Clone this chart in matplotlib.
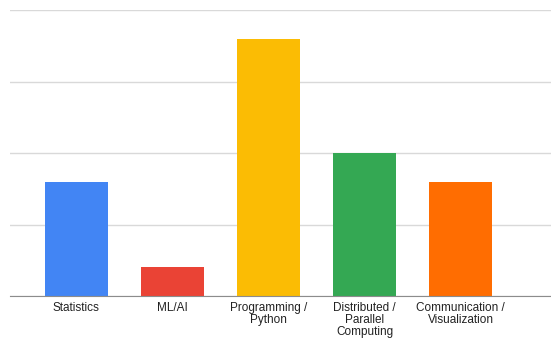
import matplotlib.pyplot as plt

# categories and counts
skills = ['Statistics', 'ML/AI', 'Programming /\nPython',
          'Distributed /\nParallel\nComputing', 'Communication /\nVisualization']
counts = [8, 2, 18, 10, 8]
colors = ['#4285F4', '#EA4335', '#FBBC04', '#34A853', '#FF6D01']

plt.rcParams['font.family'] = ['Liberation Sans', 'DejaVu Sans']

fig = plt.figure(figsize=(5.51, 3.38), dpi=100)
ax = fig.add_axes([10 / 551, 42 / 338, 541 / 551, 286 / 338])

x = list(range(len(skills)))
ax.bar(x, counts, width=0.65, color=colors, zorder=3)

ax.set_xlim(-0.69, 4.94)
ax.set_ylim(0, 20)
ax.set_yticks([0, 5, 10, 15, 20])
ax.set_yticklabels([])
ax.grid(axis='y', color='#d9d9d9', linewidth=1, zorder=0)
ax.set_xticks(x)
ax.set_xticklabels(skills, fontsize=8.5, linespacing=1.0, va='top', color='#222222')
ax.tick_params(axis='both', length=0)
ax.tick_params(axis='x', pad=4)

for s in ['top', 'right', 'left']:
    ax.spines[s].set_visible(False)
ax.spines['bottom'].set_color('#8c8c8c')
ax.spines['bottom'].set_zorder(4)

fig.savefig('out.png', dpi=100)
